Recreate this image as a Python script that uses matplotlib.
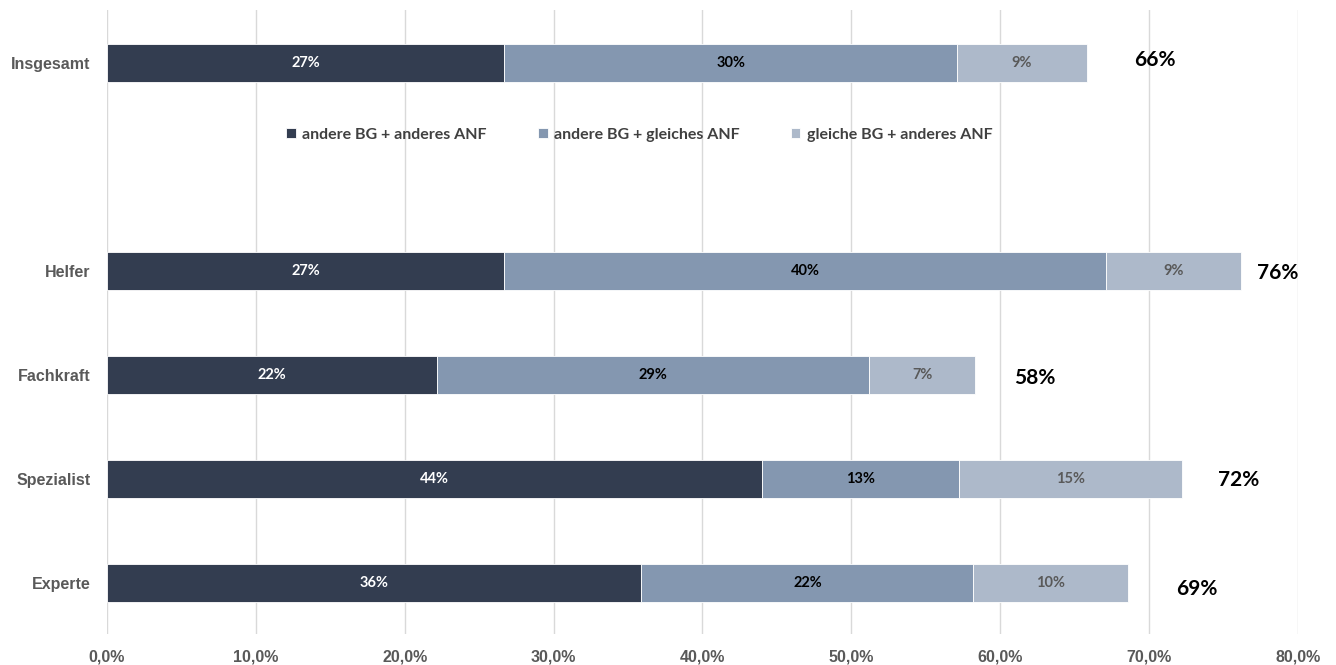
import matplotlib
matplotlib.use("Agg")
import matplotlib.pyplot as plt
import numpy as np

# Daten (Anteile in %)
categories = ["Insgesamt", "Helfer", "Fachkraft", "Spezialist", "Experte"]
ypos = [5, 3, 2, 1, 0]  # Slot 4 bleibt frei für die Legende
series_names = ["andere BG + anderes ANF", "andere BG + gleiches ANF", "gleiche BG + anderes ANF"]
dark = [26.7, 26.7, 22.2, 44.0, 35.9]
mid = [30.4, 40.4, 29.0, 13.2, 22.3]
light = [8.7, 9.1, 7.1, 15.0, 10.4]

# Lage der Summen-Beschriftungen (wie im Original leicht versetzt)
total_label_x = [70.4, 78.6, 62.3, 76.0, 73.2]
total_label_dy = [0.03, -0.02, -0.03, -0.01, -0.06]

colors = ["#333d50", "#8497b0", "#adb9ca"]
text_colors = ["white", "black", "#595959"]

fig = plt.figure(figsize=(13.36, 6.65), dpi=100)
ax = fig.add_axes([0.080, 0.047, 0.8916, 0.938])

left = np.zeros(len(categories))
for vals, name, c, tc in zip([dark, mid, light], series_names, colors, text_colors):
    vals = np.array(vals)
    ax.barh(ypos, vals, left=left, height=0.365, color=c, label=name,
            edgecolor="white", linewidth=0.6, zorder=3)
    for y, l, v in zip(ypos, left, vals):
        ax.text(l + v / 2, y, f"{v:.0f}%", ha="center", va="center", color=tc,
                fontsize=10.5, fontweight="bold", family="Lato", zorder=4)
    left += vals

# Summen rechts neben den Balken
for y, tot, lx, dy in zip(ypos, left, total_label_x, total_label_dy):
    ax.text(lx, y + dy, f"{tot:.0f}%", ha="center", va="center", color="black",
            fontsize=15, fontweight="bold", family="Lato")

ax.set_xlim(0, 80)
ax.set_ylim(-0.49, 5.51)
ax.set_xticks(np.arange(0, 81, 10))
ax.set_xticklabels([f"{t:.1f}%".replace(".", ",") for t in np.arange(0, 81, 10)])
ax.set_yticks(ypos)
ax.set_yticklabels(categories)
for lab in ax.get_xticklabels() + ax.get_yticklabels():
    lab.set_fontweight("bold")
    lab.set_color("#595959")
    lab.set_family("Liberation Sans")
    lab.set_fontsize(11.5)
ax.tick_params(axis="x", length=0, pad=11)
ax.tick_params(axis="y", length=0, pad=12)

ax.grid(axis="x", color="#d9d9d9", linewidth=1, zorder=0)
for s in ax.spines.values():
    s.set_visible(False)

leg = ax.legend(loc="center", bbox_to_anchor=(0.447, 0.80), ncol=3, frameon=False,
                handlelength=0.6, handleheight=0.6, handletextpad=0.4, columnspacing=3.2,
                prop={"family": "Lato", "weight": "bold", "size": 11.5})
for t in leg.get_texts():
    t.set_color("#404040")

fig.savefig("out.png", dpi=100)
